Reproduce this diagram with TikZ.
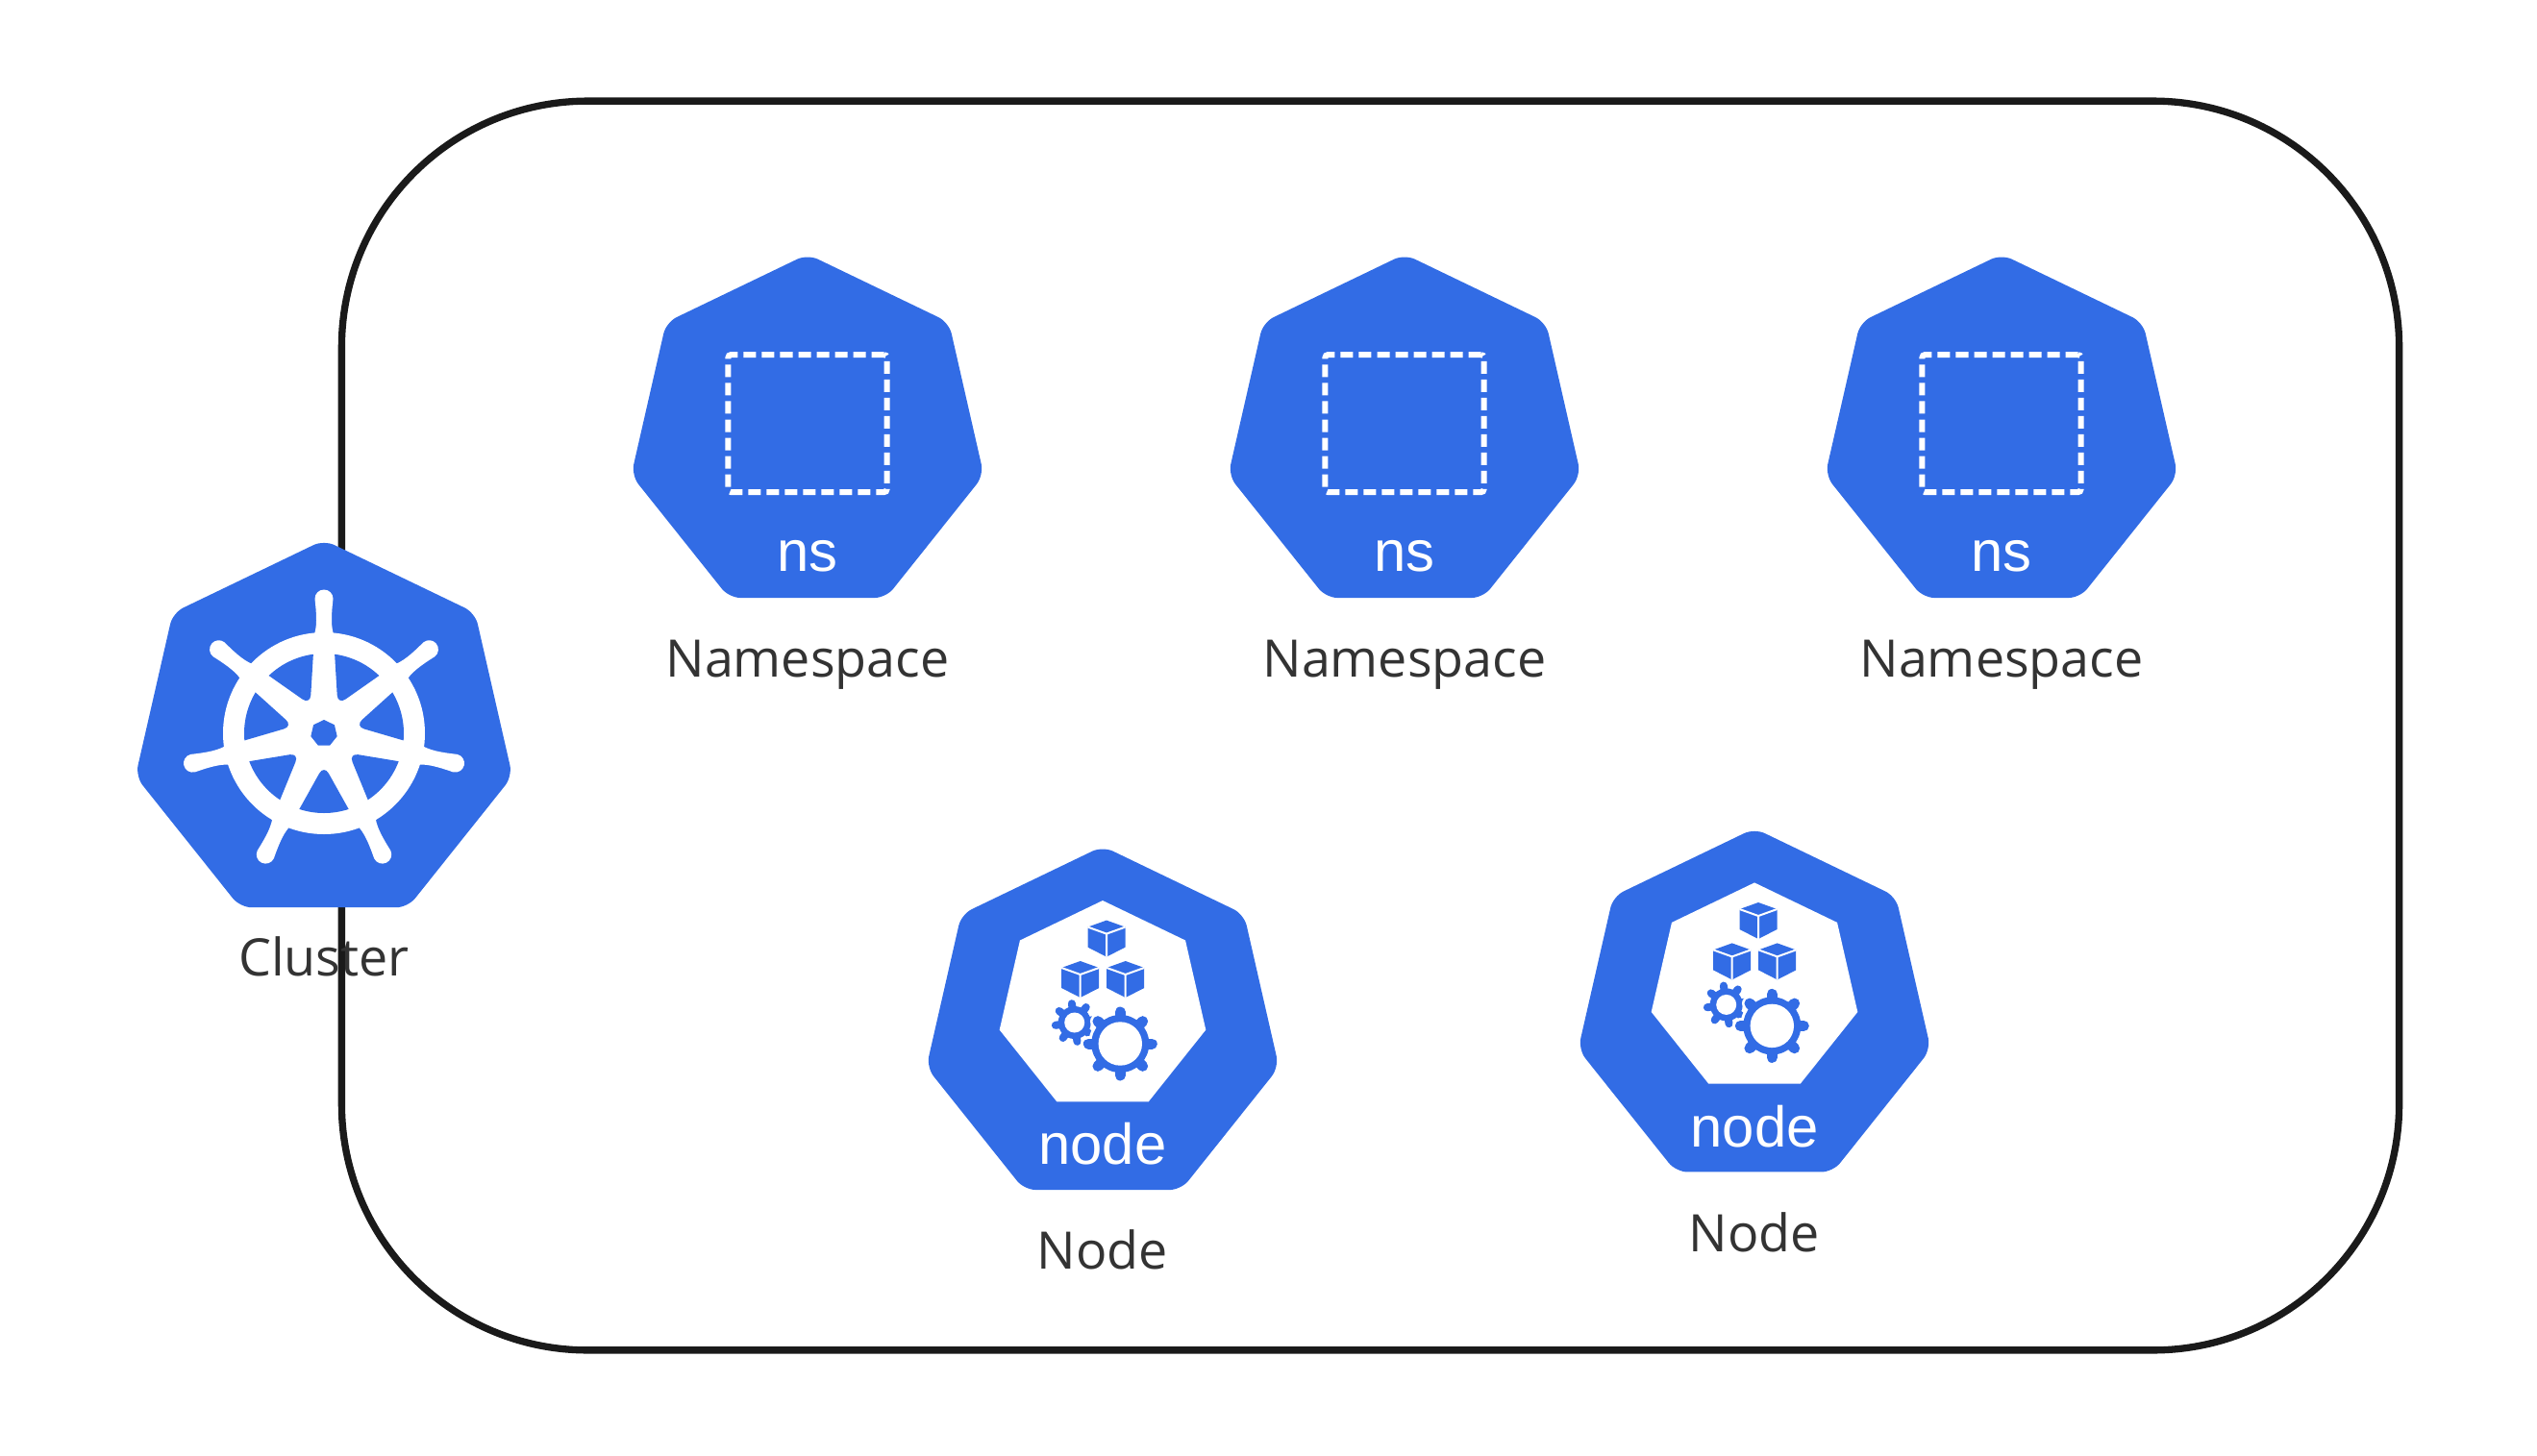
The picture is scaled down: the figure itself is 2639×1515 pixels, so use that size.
\documentclass[tikz,border=0pt]{standalone}
\usepackage{fontspec}
\setmainfont{Open Sans}
\newfontfamily\glyphfont{Liberation Sans}
\usetikzlibrary{positioning,shapes.geometric}
\definecolor{kblue}{HTML}{326CE5}
\definecolor{kline}{HTML}{1A1A1A}
\definecolor{ktext}{HTML}{333333}
\newcommand{\kcube}[2]{%
  \fill[kblue] (#1-19.5,#2-12) -- (#1,#2-19) -- (#1+19.5,#2-12) -- (#1+19.5,#2+9) -- (#1,#2+19) -- (#1-19.5,#2+9) -- cycle;
  \draw[white, line width=.2mm] (#1-19.5,#2-12) -- (#1,#2-5) -- (#1+19.5,#2-12) (#1,#2-5) -- (#1,#2+19);
}
\newcommand{\kgear}[7]{% x, y, body, hole, tooth end, tooth width, tooth offset
  \foreach \t in {0,45,...,315}
    \draw[white, line width=#6+.5mm, line cap=round] (#1,#2) ++(#7+\t:#3-2) -- ++(#7+\t:#5-#3+2);
  \fill[white] (#1,#2) circle[radius=#3+3];
  \foreach \t in {0,45,...,315}
    \draw[kblue, line width=#6, line cap=round] (#1,#2) ++(#7+\t:#3-2) -- ++(#7+\t:#5-#3+2);
  \fill[kblue] (#1,#2) circle[radius=#3];
  \fill[white] (#1,#2) circle[radius=#4];
}
\begin{document}
\begin{tikzpicture}[x=.01cm, y=-.01cm,
  hept/.style={regular polygon, regular polygon sides=7, fill=kblue, rounded corners=1.2mm, inner sep=0pt, minimum size=3.76cm},
  lbl/.style={text=ktext, font=\fontsize{15.3}{18}\selectfont, inner sep=0pt},
  tag/.style={text=white, font=\glyphfont\fontsize{17}{20}\selectfont, inner sep=0pt},
  dashbox/.style={draw=white, line width=.6mm, dash pattern=on 1.3mm off .6mm, minimum width=16.5mm, minimum height=14.3mm, inner sep=0pt, rounded corners=.3mm},
  inhept/.style={hept, fill=white, rounded corners=0pt, minimum size=2.2cm}]
\useasboundingbox (0,0) rectangle (2639,1515);
\node[draw=kline, line width=.73mm, rounded corners=2.56cm, minimum width=21.39cm, minimum height=12.99cm, inner sep=0pt] (cluster) at (1425.5,755) {};
% namespaces
\foreach \nm/\px in {ns1/840, ns2/1461, ns3/2082} {
  \node[hept] (\nm) at (\px,452.6) {};
  \node[dashbox, above=1.2mm of \nm.center, anchor=center] (\nm box) {};
  \node[tag, below=1.42cm of \nm.center, anchor=base] (\nm tag) {ns};
  \node[lbl, below=2.52cm of \nm.center, anchor=base] (\nm lbl) {Namespace};
}
% nodes
\foreach \nm/\px/\py in {wk1/1147/1068.6, wk2/1825/1050} {
  \node[hept] (\nm) at (\px,\py) {};
  \node[inhept, above=2.15mm of \nm.center, anchor=center] (\nm in) {};
  \node[tag, below=1.43cm of \nm.center, anchor=base] (\nm tag) {node};
  \node[lbl, below=2.52cm of \nm.center, anchor=base] (\nm lbl) {Node};
  \begin{scope}[shift={(\nm.center)}]
    \kcube{4}{-92}
    \kcube{-23.3}{-49.6}
    \kcube{23.7}{-49.6}
    \kgear{-29.3}{-4.6}{17}{10.5}{20}{.8mm}{-8}
    \kgear{18.3}{17.4}{30}{22.7}{33}{1.1mm}{0}
  \end{scope}
}
% cluster
\node[hept, minimum size=4.02cm] (ctl) at (337,763) {};
\begin{scope}[shift={(ctl.center)}]
  \fill[white] (0,0) circle[radius=105];
  \foreach \a [evaluate=\a as \m using -64.29+\a*51.43] in {0,1,...,6} {
    \fill[kblue] (\m-18:83) [rounded corners=1mm] -- (\m:33) [sharp corners] -- (\m+18:83) arc[start angle=\m+18, end angle=\m-18, radius=83] -- cycle;
    \fill[white, rotate=\a*51.43] (-11,-100) .. controls (-7,-110) and (-7.5,-122) .. (-9.5,-140) arc[start angle=180, end angle=360, radius=9.5] .. controls (7.5,-122) and (7,-110) .. (11,-100) -- cycle;
  }
  \node[regular polygon, regular polygon sides=7, fill=kblue, minimum size=.28cm, inner sep=0pt] (hub) at (0,0) {};
\end{scope}
\node[lbl, below=2.52cm of ctl.center, anchor=base] (ctl lbl) {Cluster};
\end{tikzpicture}
\end{document}
